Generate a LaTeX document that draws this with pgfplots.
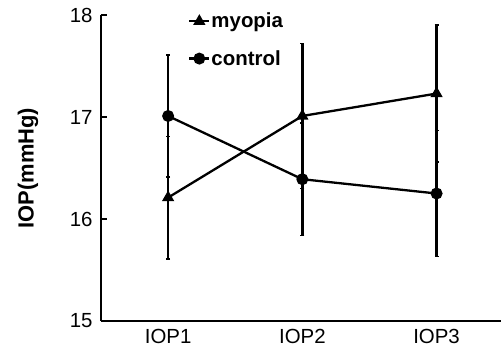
\documentclass[border=0pt]{standalone}
\usepackage{pgfplots}
\pgfplotsset{compat=1.18}
\usepackage{fontspec}
\setmainfont{Liberation Sans}
\begin{document}
\begin{tikzpicture}
\path[use as bounding box] (-101bp,-34bp) rectangle (400bp,321bp);
\begin{axis}[
  scale only axis,
  width=400bp, height=306bp,
  at={(0,0)}, anchor=south west,
  xmin=-0.5, xmax=2.48,
  ymin=15, ymax=18,
  ytick={15,16,17,18},
  xtick={0,1,2},
  xticklabels={IOP1,IOP2,IOP3},
  axis x line=bottom, axis y line=left,
  axis line style={line width=2.6bp, -},
  x axis line style={-},
  major x tick style={draw=none},
  major y tick style={line width=2.4bp, black},
  tick align=inside,
  major tick length=6bp,
  /pgf/number format/assume math mode=true,
  ticklabel style={font=\fontsize{20.5}{24}\selectfont},
  yticklabel style={xshift=-5bp},
  xticklabel style={yshift=-5bp},
  ylabel={IOP(mmHg)},
  ylabel style={font=\fontsize{22}{26}\selectfont\bfseries, at={(axis description cs:-0.1825,0.5)}, anchor=center},
  clip=false,
  legend style={draw=none, fill=none, at={(axis description cs:0.2175,1.01)}, anchor=north west,
    font=\fontsize{20.5}{24}\selectfont\bfseries, row sep=19bp, inner sep=0pt,
    nodes={inner sep=1bp}},
  legend cell align=left,
  legend image code/.code={\draw[mark repeat=2,mark phase=2,#1] plot coordinates {(0bp,0bp)(10bp,0bp)(20bp,0bp)};},
]
\addplot+[black, line width=2.3bp, mark=triangle*, mark size=4.8bp, mark options={solid, fill=black},
  error bars/.cd, y dir=both, y explicit,
  error bar style={line width=2.6bp, black},
  error mark options={rotate=90, mark size=2bp, line width=1.5bp, black}]
  coordinates {
  (0,16.21) +- (0,0.60)
  (1,17.01) +- (0,0.71)
  (2,17.23) +- (0,0.67)
  };
\addlegendentry{myopia}
\addplot+[black, line width=2.3bp, mark=*, mark size=4.8bp, mark options={solid, fill=black},
  error bars/.cd, y dir=both, y explicit,
  error bar style={line width=2.6bp, black},
  error mark options={rotate=90, mark size=2bp, line width=1.5bp, black}]
  coordinates {
  (0,17.01) +- (0,0.60)
  (1,16.39) +- (0,0.55)
  (2,16.25) +- (0,0.62)
  };
\addlegendentry{control}
\end{axis}
\end{tikzpicture}
\end{document}
